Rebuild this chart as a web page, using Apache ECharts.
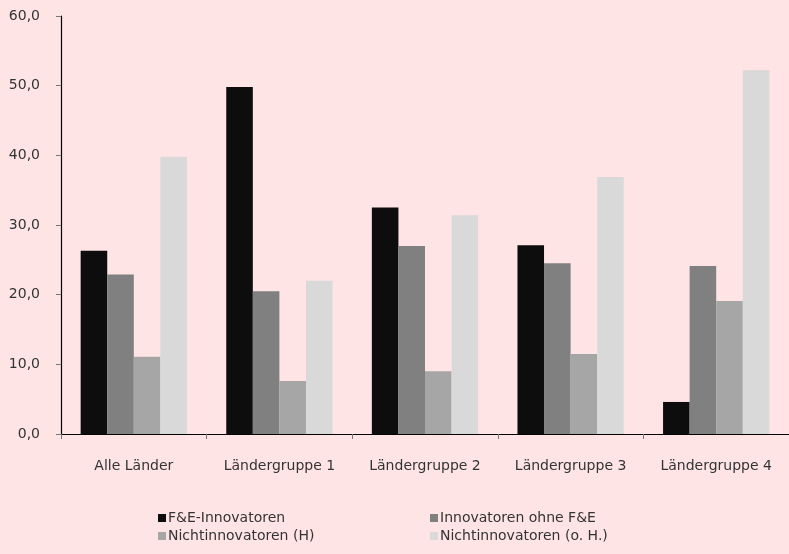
<!DOCTYPE html>
<html>
<head>
<meta charset="utf-8">
<script src="https://cdn.jsdelivr.net/npm/echarts@6/dist/echarts.min.js"></script>
<style>
html,body{margin:0;padding:0;background:#ffe4e6;}
#c{width:789px;height:554px;}
</style>
</head>
<body>
<div id="c"></div>
<script>
const categories = ['Alle Länder', 'Ländergruppe 1', 'Ländergruppe 2', 'Ländergruppe 3', 'Ländergruppe 4'];
const seriesNames = ['F&E-Innovatoren', 'Innovatoren ohne F&E', 'Nichtinnovatoren (H)', 'Nichtinnovatoren (o. H.)'];
const feInnovatoren = [26.3, 49.8, 32.5, 27.1, 4.6];
const innovatorenOhneFE = [22.9, 20.5, 27.0, 24.5, 24.1];
const nichtinnovatorenH = [11.1, 7.6, 9.0, 11.5, 19.1];
const nichtinnovatorenOH = [39.8, 22.0, 31.4, 36.9, 52.2];
const yTicks = { min: 0, max: 60, interval: 10 };

const colors = ['#0d0d0d', '#808080', '#a6a6a6', '#d9d9d9'];
const values = [feInnovatoren, innovatorenOhneFE, nichtinnovatorenH, nichtinnovatorenOH];
const font = '"DejaVu Sans", sans-serif';
const txtColor = '#333333';

const chart = echarts.init(document.getElementById('c'));
const legendCommon = {
  orient: 'vertical', top: 506, itemWidth: 8, itemHeight: 8, itemGap: 4,
  icon: 'rect',
  textStyle: { fontFamily: font, fontSize: 14, color: txtColor, padding: [0, 0, 0, -3] }
};
chart.setOption({
  backgroundColor: '#ffe4e6',
  animation: false,
  color: colors,
  textStyle: { fontFamily: font },
  grid: { left: 61, width: 736, top: 16, height: 418, containLabel: false },
  legend: [
    Object.assign({ data: [seriesNames[0], seriesNames[2]], left: 153 }, legendCommon),
    Object.assign({ data: [seriesNames[1], seriesNames[3]], left: 425 }, legendCommon)
  ],
  xAxis: {
    type: 'category',
    data: categories,
    boundaryGap: true,
    axisLine: { lineStyle: { color: '#000', width: 1.2 } },
    axisTick: { show: true, alignWithLabel: false, length: 5, lineStyle: { color: '#777' } },
    axisLabel: { fontFamily: font, fontSize: 14, color: txtColor, margin: 25 }
  },
  yAxis: {
    type: 'value',
    min: yTicks.min, max: yTicks.max, interval: yTicks.interval,
    splitLine: { show: false },
    axisLine: { show: true, lineStyle: { color: '#000', width: 1.2 } },
    axisTick: { show: true, length: 5, lineStyle: { color: '#777' } },
    axisLabel: {
      fontFamily: font, fontSize: 14, color: txtColor, margin: 21,
      formatter: v => v.toFixed(1).replace('.', ',')
    }
  },
  series: seriesNames.map((name, i) => ({
    name,
    type: 'bar',
    data: values[i],
    barGap: '0%',
    barCategoryGap: '27%',
    itemStyle: { color: colors[i] }
  }))
});
</script>
</body>
</html>
